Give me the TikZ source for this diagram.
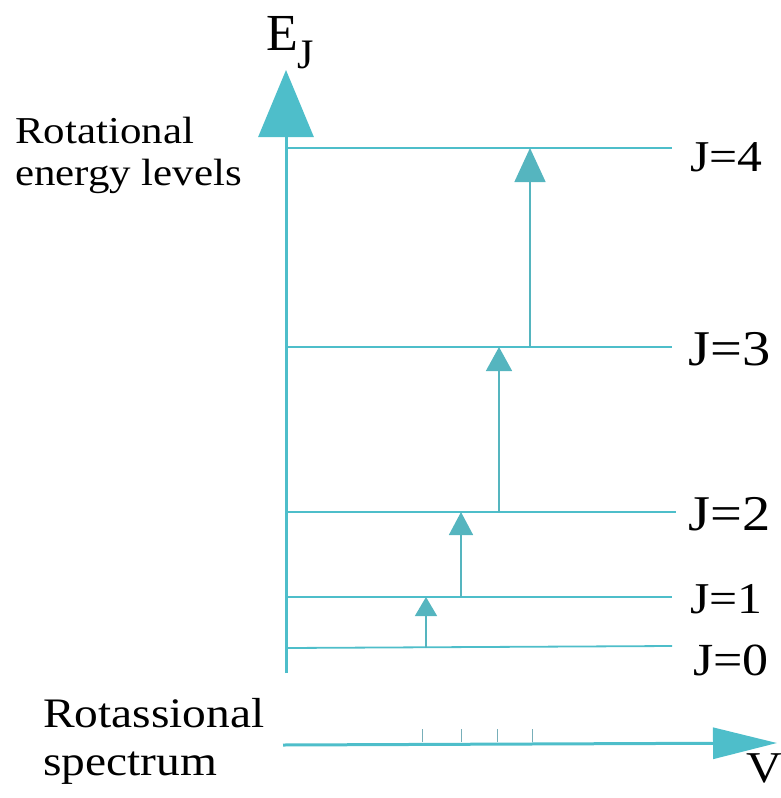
\documentclass[tikz,border=0pt]{standalone}
\usepackage{fontspec}
\setmainfont{Liberation Serif}
\usetikzlibrary{arrows.meta}
\definecolor{tealc}{RGB}{78,190,202}
\definecolor{tickc}{RGB}{120,175,185}
\tikzset{
  axisline/.style={draw=tealc, line width=3pt},
  levelline/.style={draw=tealc, line width=1.8pt},
  transline/.style={draw=tealc!85!gray, line width=1.5pt},
  tickline/.style={draw=tickc, line width=1pt},
  lbl/.style={inner sep=0pt, anchor=base west, text=black},
}
\newcommand{\wtxt}[2]{\scalebox{1.13}[1]{\fontsize{#1}{#1}\selectfont #2}}
\begin{document}
\begin{tikzpicture}[x=1pt,y=-1pt]
\useasboundingbox (0,0) rectangle (781,798);
% vertical energy axis
\coordinate (ybot) at (286,673);
\coordinate (ytop) at (286,70);
\draw[axisline, -{Triangle[length=67pt,width=55pt]}] (ybot) -- (ytop);
% levels
\coordinate (l0a) at (286,648); \coordinate (l0b) at (672,646);
\coordinate (l1a) at (286,597); \coordinate (l1b) at (672,597);
\coordinate (l2a) at (286,512); \coordinate (l2b) at (676,512);
\coordinate (l3a) at (286,347); \coordinate (l3b) at (672,347);
\coordinate (l4a) at (286,148); \coordinate (l4b) at (672,148);
\draw[levelline] (l0a) -- (l0b);
\draw[levelline] (l1a) -- (l1b);
\draw[levelline] (l2a) -- (l2b);
\draw[levelline] (l3a) -- (l3b);
\draw[levelline] (l4a) -- (l4b);
% level labels
\node[lbl] (j4) at (690,171) {\wtxt{44}{J=4}};
\node[lbl] (j3) at (688,365) {\wtxt{50}{J=3}};
\node[lbl] (j2) at (688,530) {\wtxt{50}{J=2}};
\node[lbl] (j1) at (690,613) {\wtxt{44}{J=1}};
\node[lbl] (j0) at (693,675) {\wtxt{46}{J=0}};
% transitions
\coordinate (t1s) at (426,648); \coordinate (t1e) at (426,597);
\coordinate (t2s) at (461,597); \coordinate (t2e) at (461,512);
\coordinate (t3s) at (499,512); \coordinate (t3e) at (499,347);
\coordinate (t4s) at (530,347); \coordinate (t4e) at (530,148);
\draw[transline, -{Triangle[length=19pt,width=22pt]}, fill=tealc] (t1s) -- (t1e);
\draw[transline, -{Triangle[length=23pt,width=24pt]}, fill=tealc] (t2s) -- (t2e);
\draw[transline, -{Triangle[length=24pt,width=26pt]}, fill=tealc] (t3s) -- (t3e);
\draw[transline, -{Triangle[length=34pt,width=31pt]}, fill=tealc] (t4s) -- (t4e);
% spectrum axis
\coordinate (sa) at (283,745);
\coordinate (sb) at (777,743);
\draw[axisline, -{Triangle[length=64pt,width=31pt]}] (sa) -- (sb);
\foreach \x [count=\i] in {422,461,497,532}{
  \coordinate (k\i a) at (\x,742); \coordinate (k\i b) at (\x,729);
  \draw[tickline] (k\i a) -- (k\i b);
}
% texts
\node[lbl] (ej) at (266,50) {\fontsize{52}{52}\selectfont E\raisebox{-18pt}{\fontsize{42}{42}\selectfont J}};
\node[lbl] (rot1) at (15,143) {\wtxt{38}{Rotational}};
\node[lbl] (rot2) at (15,185) {\wtxt{38}{energy levels}};
\node[lbl] (sp1) at (43,727) {\wtxt{42}{Rotassional}};
\node[lbl] (sp2) at (43,775) {\wtxt{42}{spectrum}};
\node[lbl] (nu) at (746,782) {\wtxt{44}{V}};
\end{tikzpicture}
\end{document}
